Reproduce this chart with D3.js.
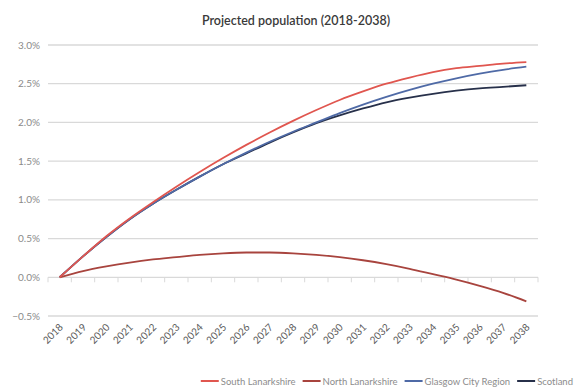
<!DOCTYPE html>
<html>
<head>
<meta charset="utf-8">
<style>
  body { margin: 0; background: #fff; }
  svg { display: block; font-family: "Lato", "Open Sans", sans-serif; }
</style>
</head>
<body>
<svg width="574" height="392"></svg>
<script src="https://d3js.org/d3.v7.min.js"></script>
<script>
var years = d3.range(2018, 2039).map(String);
var yTicks = [-0.5, 0, 0.5, 1.0, 1.5, 2.0, 2.5, 3.0];

// projected % change since 2018
var southLanarkshire = [0, 0.27, 0.53, 0.76, 0.97, 1.17, 1.36, 1.54, 1.71, 1.87, 2.02, 2.16, 2.29, 2.40, 2.50, 2.58, 2.65, 2.70, 2.73, 2.76, 2.78];
var northLanarkshire = [0, 0.08, 0.14, 0.19, 0.23, 0.26, 0.29, 0.31, 0.32, 0.32, 0.31, 0.29, 0.26, 0.22, 0.17, 0.11, 0.04, -0.03, -0.11, -0.20, -0.31];
var glasgowCityRegion = [0, 0.27, 0.52, 0.75, 0.95, 1.13, 1.30, 1.46, 1.61, 1.75, 1.88, 2.00, 2.12, 2.23, 2.33, 2.42, 2.50, 2.57, 2.63, 2.68, 2.72];
var scotland = [0, 0.27, 0.52, 0.75, 0.95, 1.13, 1.30, 1.46, 1.60, 1.74, 1.87, 1.99, 2.09, 2.18, 2.26, 2.32, 2.37, 2.41, 2.44, 2.46, 2.48];

var seriesNames = ["South Lanarkshire", "North Lanarkshire", "Glasgow City Region", "Scotland"];
var seriesColors = ["#e0564f", "#a8443e", "#4f6aa6", "#27304a"];
var seriesData = [southLanarkshire, northLanarkshire, glasgowCityRegion, scotland];

var svg = d3.select("svg");

var x = d3.scaleBand().domain(years).range([48, 538]);
var y = d3.scaleLinear().domain([-0.5, 3.0]).range([316, 45]);

svg.append("text")
    .attr("x", 296).attr("y", 25)
    .attr("text-anchor", "middle")
    .attr("font-size", 12.5)
    .attr("font-weight", 600)
    .attr("fill", "#3a3a3a")
    .text("Projected population (2018-2038)");

// gridlines
svg.append("g")
    .selectAll("line")
    .data(yTicks)
    .join("line")
    .attr("x1", 48).attr("x2", 538)
    .attr("y1", d => y(d)).attr("y2", d => y(d))
    .attr("stroke", "#d9d9d9")
    .attr("stroke-width", 1.3);

// y labels
svg.append("g")
    .selectAll("text")
    .data(yTicks)
    .join("text")
    .attr("x", 40)
    .attr("y", d => y(d) + 3.5)
    .attr("text-anchor", "end")
    .attr("font-size", 10)
    .attr("fill", "#8a8a8a")
    .text(d => d3.format(".1f")(d) + "%");

// category ticks on the zero line
var bounds = years.map(d => x(d)).concat([x.range()[1]]);
svg.append("g")
    .selectAll("line")
    .data(bounds)
    .join("line")
    .attr("x1", d => d).attr("x2", d => d)
    .attr("y1", y(0)).attr("y2", y(0) + 5)
    .attr("stroke", "#d9d9d9");

// x labels
svg.append("g")
    .selectAll("text")
    .data(years)
    .join("text")
    .attr("transform", d => "translate(" + (x(d) + x.bandwidth() / 2 + 4) + "," + 328 + ") rotate(-45)")
    .attr("text-anchor", "end")
    .attr("font-size", 10)
    .attr("fill", "#595959")
    .text(d => d);

var line = d3.line()
    .x((d, i) => x(years[i]) + x.bandwidth() / 2)
    .y(d => y(d))
    .curve(d3.curveMonotoneX);

// draw back to front so Scotland ends on top like the original
[3, 2, 1, 0].forEach(function(k) {
    svg.append("path")
        .datum(seriesData[k])
        .attr("fill", "none")
        .attr("stroke", seriesColors[k])
        .attr("stroke-width", 1.8)
        .attr("d", line);
});

// legend, laid out then shifted so it ends at the right edge
var legend = svg.append("g");
var lx = 0;
seriesNames.forEach(function(name, i) {
    var item = legend.append("g").attr("transform", "translate(" + lx + ",0)");
    item.append("line")
        .attr("x1", 0).attr("x2", 18)
        .attr("stroke", seriesColors[i])
        .attr("stroke-width", 2);
    var t = item.append("text")
        .attr("x", 20).attr("y", 3.5)
        .attr("font-size", 9.5)
        .attr("fill", "#8c8c8c")
        .text(name);
    lx += 20 + t.node().getComputedTextLength() + 7;
});
legend.attr("transform", "translate(" + (573 - (lx - 7)) + ",381)");
</script>
</body>
</html>
